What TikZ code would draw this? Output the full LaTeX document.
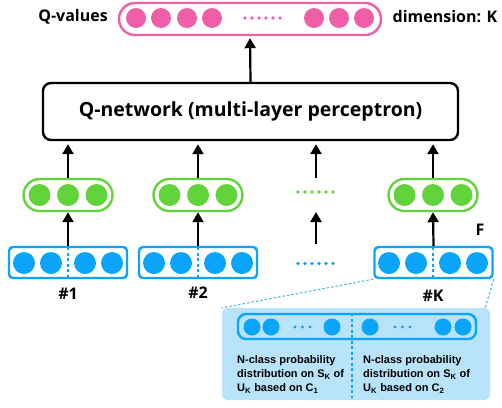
\documentclass[tikz,border=0pt]{standalone}
\usepackage{fontspec}
\setmainfont{Open Sans}
\newfontfamily\panelfont{Liberation Sans}
\usetikzlibrary{arrows.meta,positioning}
\definecolor{qpink}{HTML}{EE5FA7}
\definecolor{qgreen}{HTML}{63D33B}
\definecolor{qblue}{HTML}{0AA5FB}
\definecolor{qpanel}{HTML}{B8E3FA}
\definecolor{qdash}{HTML}{4DB6F0}
\tikzset{
  arr/.style={-{Triangle[length=10pt,width=11pt]},line width=2.2pt},
  gpill/.style={draw=qgreen,line width=2.4,rounded corners=16,
    minimum width=89,minimum height=32},
  bbox/.style={draw=qblue,line width=2.4,rounded corners=4,
    minimum width=118,minimum height=31},
  bdash/.style={qblue,line width=1.6,dash pattern=on 3pt off 2.5pt},
  lbl/.style={font=\bfseries\fontsize{16}{18}\selectfont},
  ptext/.style={align=left,inner sep=0,anchor=north west,
    font=\panelfont\bfseries\fontsize{11}{14.3}\selectfont}
}
\begin{document}
\begin{tikzpicture}[x=1pt,y=-1pt]
  \useasboundingbox (0,0) rectangle (502,407);

  % output layer
  \node[
    draw=qpink,
    line width=2.4,
    rounded corners=16,
    minimum width=262,
    minimum height=32] (qv) at (250,19) {};
  \foreach \x in {136,161,187,212,314,339,364}
    \fill[qpink] (\x,18) circle (10);
  \foreach \x in {245,252,...,281}
    \fill[qpink] (\x,18) circle (1.8);
  \node[lbl] (qvl) at (73,17) {Q-values};
  \node[lbl] (dim) at (445,17) {dimension: K};

  % network
  \node[
    draw,
    line width=2.4,
    rounded corners=8,
    minimum width=415,
    minimum height=57,
    font=\bfseries\fontsize{19.5}{22}\selectfont] (qnet) at (250.5,111.5)
    {Q-network (multi-layer perceptron)};
  \draw[arr,shorten >=2pt] (qnet.north) -- (qv.south);

  % columns
  \node[gpill] (g1) at (68,195) {};
  \node[gpill] (g2) at (198,195) {};
  \node[gpill] (gk) at (433,195) {};
  \node[bbox] (b1) at (68,262.5) {};
  \node[bbox] (b2) at (198,262.5) {};
  \node[bbox] (bk) at (433.5,262.5) {};
  \foreach \c in {68,198,433}{
    \foreach \d in {-28.5,0,28.5}
      \fill[qgreen] (\c+\d,195) circle (11);
    \foreach \d in {-44,-17,17,44}
      \fill[qblue] (\c+\d,263) circle (11);
    \draw[bdash] (\c,247) -- (\c,278);
  }
  \foreach \x in {298,305,...,334}{
    \fill[qgreen] (\x,192) circle (1.8);
    \fill[qblue] (\x,263.5) circle (1.8);
  }

  \draw[arr] (b1.north) -- (g1.south);
  \draw[arr] (b2.north) -- (g2.south);
  \draw[arr] (bk.north) -- (gk.south);
  \draw[arr,shorten >=3pt] (g1.north) -- (g1.north |- qnet.south);
  \draw[arr,shorten >=3pt] (g2.north) -- (g2.north |- qnet.south);
  \draw[arr,shorten >=3pt] (gk.north) -- (gk.north |- qnet.south);
  \coordinate (m1) at (316,244);
  \coordinate (m2) at (316,212);
  \coordinate (m3) at (316,178);
  \draw[arr] (m1) -- (m2);
  \draw[arr,shorten >=3pt] (m3) -- (m3 |- qnet.south);

  \node[lbl] (n1) at (68,294) {\#1};
  \node[lbl] (n2) at (198,293) {\#2};
  \node[lbl] (nk) at (433,296) {\#K};
  \node[lbl] (f) at (480,230) {F};

  % zoom of #K
  \node[
    fill=qpanel,
    rounded corners=6,
    minimum width=268,
    minimum height=92] (panel) at (356,354) {};
  \draw[qdash,line width=1.1,dash pattern=on 2.5pt off 2pt]
    (bk.south west) -- (panel.north west);
  \draw[qdash,line width=1.1,dash pattern=on 2.5pt off 2pt]
    (bk.south east) -- ([xshift=-5pt]panel.north east);
  \node[
    draw=qblue,
    line width=2.4,
    rounded corners=8,
    minimum width=238,
    minimum height=25] (inner) at (357,326.5) {};
  \foreach \x in {252,271,332,370,443,463}
    \fill[qblue] (\x,327) circle (8.5);
  \foreach \x in {295,302.5,310,395,402.5,410}
    \fill[qblue] (\x,327) circle (1.7);
  \coordinate (d1) at (352,313);
  \coordinate (d2) at (352,398);
  \draw[bdash] (d1) -- (d2);
  \node[ptext] (c1) at (237,355)
    {N-class probability\\distribution on S\textsubscript{K} of\\U\textsubscript{K} based on C\textsubscript{1}};
  \node[ptext] (c2) at (363,355)
    {N-class probability\\distribution on S\textsubscript{K} of\\U\textsubscript{K} based on C\textsubscript{2}};
\end{tikzpicture}
\end{document}
